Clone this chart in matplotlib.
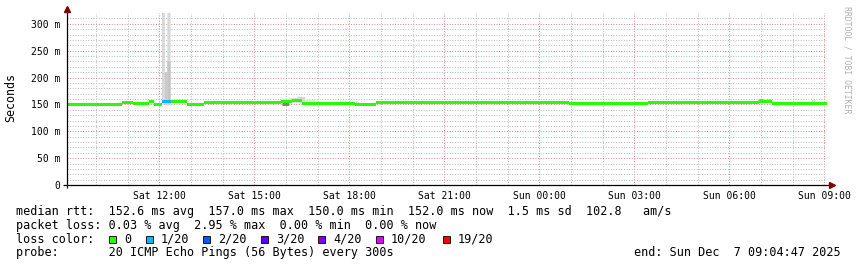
import matplotlib
matplotlib.use("Agg")
import matplotlib.pyplot as plt

# ---------------- data (x = hours since Sat 00:00) ----------------
x_start, x_end = 9.08, 33.08
tick_hours = [12, 15, 18, 21, 24, 27, 30, 33]
tick_labels = ["Sat 12:00", "Sat 15:00", "Sat 18:00", "Sat 21:00",
               "Sun 00:00", "Sun 03:00", "Sun 06:00", "Sun 09:00"]
ytick_vals = [0, 50, 100, 150, 200, 250, 300]
ytick_labels = ["0", "50 m", "100 m", "150 m", "200 m", "250 m", "300 m"]

# median rtt segments (ms) - edges in hours
median_edges = [9.08, 10.83, 11.17, 11.67, 11.83, 12.08, 12.35, 12.88, 13.42,
                15.83, 16.17, 16.50, 17.58, 18.17, 18.83, 24.92, 27.42,
                30.92, 31.33, 33.08]
median_ms = [149.5, 153.0, 151.0, 155.5, 150.5, 155.5, 155.0, 149.5, 153.0,
             155.0, 156.5, 151.0, 152.0, 150.0, 153.0, 151.8, 153.3,
             155.0, 151.5]
median_loss = [0, 0, 0, 0, 0, 1, 0, 0, 0,
               0, 0, 0, 0, 0, 0, 0, 0,
               0, 0]

# smoke (ping spread) boxes
smoke_start = [12.08, 12.17, 12.25, 12.25, 15.88, 16.10, 16.35, 16.60, 17.70,
               18.20, 30.92, 31.17, 32.60]
smoke_end = [12.17, 12.25, 12.35, 12.35, 16.10, 16.35, 16.60, 16.92, 17.90,
             18.30, 31.08, 31.33, 32.72]
smoke_low = [150.0, 150.0, 150.0, 150.0, 147.0, 152.0, 152.0, 152.0, 151.0,
             151.0, 154.0, 154.0, 153.0]
smoke_high = [330.0, 210.0, 330.0, 230.0, 158.0, 162.0, 164.0, 158.0, 157.0,
              156.0, 160.0, 159.0, 158.0]
smoke_color = ["#d8d8d8", "#cacaca", "#d8d8d8", "#c4c4c4", "#8c8082",
               "#dcdcdc", "#d8d8d8", "#e2e2e2", "#e2e2e2",
               "#e6e6e6", "#a8a8a8", "#b4b4b4", "#d4d4d4"]

loss_labels = ["0", "1/20", "2/20", "3/20", "4/20", "10/20", "19/20"]
loss_colors = ["#26ff00", "#00b8ff", "#0059ff", "#5e00ff", "#7e00ff",
               "#dd00ff", "#ff0000"]

stats_line = ("median rtt:  152.6 ms avg  157.0 ms max  150.0 ms min  "
              "152.0 ms now  1.5 ms sd  102.8   am/s")
loss_line = "packet loss: 0.03 % avg  2.95 % max  0.00 % min  0.00 % now"
probe_line = "probe:       20 ICMP Echo Pings (56 Bytes) every 300s"
end_line = "end: Sun Dec  7 09:04:47 2025"

# ---------------- figure ----------------
W, H = 857, 267
fig = plt.figure(figsize=(W / 100, H / 100), dpi=100)
fig.patch.set_facecolor("white")

def fx(x):
    return x / W

def fy(y):
    return 1 - y / H

ax_l, ax_r, ax_t, ax_b = 67, 827, 13, 185
ax = fig.add_axes([fx(ax_l), fy(ax_b), (ax_r - ax_l) / W, (ax_b - ax_t) / H])
ax.set_xlim(x_start, x_end)
ax.set_ylim(0, 320)
for s in ax.spines.values():
    s.set_visible(False)

# grid
ax.set_xticks(tick_hours)
ax.set_xticks(list(range(10, 34)), minor=True)
ax.set_yticks(ytick_vals)
ax.set_yticks(list(range(10, 320, 10)), minor=True)
ax.grid(which="minor", color="#bcbcbc", linestyle=(0, (1, 1.6)), linewidth=0.72,
        zorder=0)
ax.grid(which="major", color="#e08a8a", linestyle=(0, (1, 1.6)), linewidth=0.72,
        zorder=0)
ax.set_axisbelow(True)

mono = "DejaVu Sans Mono"
ax.set_xticklabels(tick_labels, family=mono, fontsize=7.05)
ax.set_yticklabels(ytick_labels, family=mono, fontsize=7.05)
ax.tick_params(which="both", length=0)
ax.tick_params(axis="x", pad=4.5)
ax.tick_params(axis="y", pad=5.0)

# smoke
for s0, s1, lo, hi, c in zip(smoke_start, smoke_end, smoke_low, smoke_high, smoke_color):
    ax.bar(s0, hi - lo, width=s1 - s0, bottom=lo, align="edge", color=c,
           linewidth=0, zorder=2, snap=False)

# median band
half = 2.8
ys = median_ms + [median_ms[-1]]
ax.fill_between(median_edges, [v - half for v in ys], [v + half for v in ys],
                step="post", color=loss_colors[0], linewidth=0, zorder=3,
                antialiased=False)
for i, lo in enumerate(median_loss):
    if lo > 0:
        v = median_ms[i]
        ax.fill_between([median_edges[i], median_edges[i + 1]], [v - half] * 2,
                        [v + half] * 2, color=loss_colors[lo], linewidth=0, zorder=4,
                        antialiased=False)

# axes lines with arrows
pxw = 1 / (ax_r - ax_l)
pxh = 1 / (ax_b - ax_t)
ax.plot([-4 * pxw, 1 + 4 * pxw], [0, 0], color="black", lw=0.9,
        transform=ax.transAxes, clip_on=False, zorder=6, solid_capstyle="butt")
ax.plot([0, 0], [-3 * pxh, 1 + 2 * pxh], color="black", lw=0.9,
        transform=ax.transAxes, clip_on=False, zorder=6, solid_capstyle="butt")
ax.plot([1 + 5 * pxw], [0], marker=">", ms=4.5, color="#7f0000", mec="#7f0000",
        transform=ax.transAxes, clip_on=False, zorder=7)
ax.plot([0], [1 + 4 * pxh], marker="^", ms=4.5, color="#7f0000", mec="#7f0000",
        transform=ax.transAxes, clip_on=False, zorder=7)

# y label
fig.text(fx(11), fy(98), "Seconds", rotation=90, family=mono, fontsize=8.4,
         ha="center", va="center")

# side credit
fig.text(fx(847), fy(60), "RRDTOOL / TOBI OETIKER", rotation=270, family=mono,
         fontsize=5.9, color="#b0b0b0", ha="center", va="center")

# legend
fs = 8.5
fig.text(fx(16), fy(211.7), stats_line, family=mono, fontsize=fs, va="center")
fig.text(fx(16), fy(225.3), loss_line, family=mono, fontsize=fs, va="center")
fig.text(fx(16), fy(239.3), "loss color:", family=mono, fontsize=fs, va="center")
fig.text(fx(16), fy(252.7), probe_line, family=mono, fontsize=fs, va="center")
fig.text(fx(841), fy(252.7), end_line, family=mono, fontsize=fs, va="center", ha="right")

sq_x = [109, 146, 203, 261, 318, 376, 443]
for xs, lab, col in zip(sq_x, loss_labels, loss_colors):
    r = plt.Rectangle((fx(xs), fy(243)), 7 / W, 7 / H, transform=fig.transFigure,
                      facecolor=col, edgecolor="black", linewidth=0.6)
    fig.patches.append(r)
    fig.text(fx(xs + 15), fy(239.3), lab, family=mono, fontsize=fs, va="center")

fig.savefig("out.png", dpi=100, facecolor="white")
